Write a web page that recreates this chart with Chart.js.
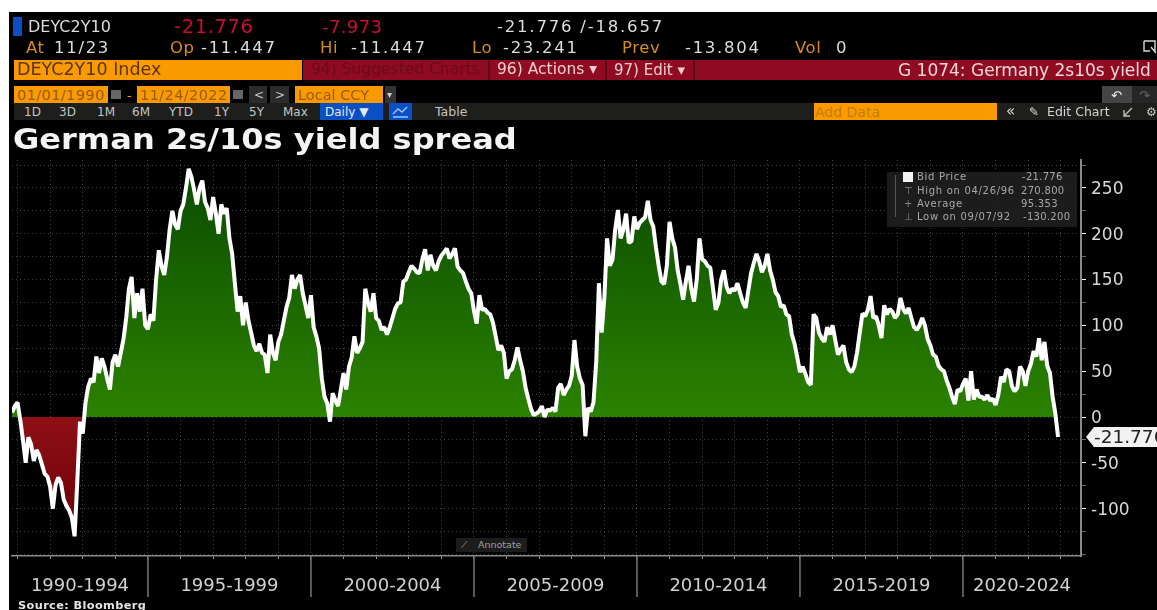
<!DOCTYPE html>
<html>
<head>
<meta charset="utf-8">
<title>German 2s/10s yield spread</title>
<script src="https://cdn.jsdelivr.net/npm/chart.js@4"></script>
<style>
  html, body { margin: 0; padding: 0; background: #fff; overflow: hidden; width: 1157px; height: 610px; }
  #terminal { position: absolute; left: 9px; top: 12px; width: 1148px; height: 598px; background: #000; }
  canvas { position: absolute; left: 0; top: 0; }
  .box { position: absolute; }
  .txt { position: absolute; white-space: pre; font-family: "DejaVu Sans", sans-serif; transform: translateY(-50%); line-height: 1; }
  svg { position: absolute; }
</style>
</head>
<body>
<div id="terminal"></div>
<canvas id="spread" width="1157" height="610"></canvas>
<div id="overlay"></div>
<script>
// Monthly samples of the 10y minus 2y Bund spread, in basis points
const firstYear = 1990.833;
const spreadValues = [
  5, 12, 16, -3, -25, -50, -22, -30, -48, -36, -42, -52, -62, -65, -76, -100, -74, -66, -72, -90,
  -97, -102, -110, -130.2, -70, -5, -18, 15, 33, 42, 38, 66, 48, 64, 55, 42, 30, 60, 68, 55,
  70, 85, 108, 140, 153, 108, 135, 115, 140, 100, 96, 112, 105, 150, 182, 165, 155, 175, 205, 225,
  210, 205, 225, 232, 250, 270.8, 262, 248, 232, 250, 258, 235, 228, 215, 240, 222, 200, 232, 222, 228,
  195, 178, 146, 115, 132, 100, 125, 105, 92, 78, 72, 80, 70, 68, 48, 90, 70, 62, 82, 90,
  105, 120, 130, 155, 140, 150, 155, 135, 122, 108, 133, 98, 88, 75, 42, 22, 15, -5, 26, 18,
  12, 30, 48, 30, 55, 65, 88, 70, 75, 82, 140, 125, 115, 135, 108, 105, 95, 98, 90, 98,
  108, 118, 124, 125, 148, 150, 158, 165, 162, 158, 157, 172, 183, 160, 177, 165, 160, 170, 176, 180,
  184, 173, 178, 184, 164, 160, 157, 148, 140, 135, 116, 102, 133, 117, 118, 114, 112, 103, 88, 73,
  78, 70, 42, 50, 52, 62, 76, 62, 50, 32, 20, 9, 2, 4, 6, 12, 0, 8, 7, 10,
  6, 32, 36, 24, 30, 34, 45, 84, 55, 42, 35, -21, 10, 6, 16, 60, 146, 92, 130, 195,
  165, 172, 205, 226, 195, 205, 222, 190, 192, 219, 205, 212, 215, 218, 236, 215, 208, 185, 165, 148,
  145, 165, 213, 195, 185, 160, 145, 128, 148, 165, 140, 126, 150, 195, 172, 170, 165, 163, 140, 117,
  125, 150, 160, 142, 135, 140, 138, 146, 135, 125, 119, 138, 157, 168, 178, 170, 158, 165, 178, 160,
  150, 136, 132, 120, 122, 112, 110, 90, 80, 65, 49, 55, 47, 38, 35, 112, 108, 92, 86, 82,
  98, 90, 100, 84, 68, 74, 78, 60, 52, 49, 55, 70, 92, 113, 110, 117, 132, 108, 110, 100,
  86, 122, 112, 118, 115, 108, 112, 130, 118, 113, 119, 108, 98, 95, 100, 108, 100, 85, 78, 68,
  66, 56, 52, 50, 40, 32, 22, 14, 30, 28, 36, 42, 18, 50, 19, 30, 22, 22, 19, 24,
  18, 20, 13, 24, 44, 38, 52, 50, 34, 28, 32, 55, 50, 34, 50, 58, 72, 66, 86, 62,
  82, 56, 48, 22, 4, -21.776
];
const periodLabels = ['1990-1994', '1995-1999', '2000-2004', '2005-2009', '2010-2014', '2015-2019', '2020-2024'];
const periodBreaks = [1995, 2000, 2005, 2010, 2015, 2020];
const yearTicks = [1991, 1992, 1993, 1994, 1995, 1996, 1997, 1998, 1999, 2000, 2001, 2002, 2003, 2004, 2005, 2006,
  2007, 2008, 2009, 2010, 2011, 2012, 2013, 2014, 2015, 2016, 2017, 2018, 2019, 2020, 2021, 2022, 2023];
const spreadTicks = [-150, -125, -100, -75, -50, -25, 0, 25, 50, 75, 100, 125, 150, 175, 200, 225, 250, 275];
const spreadLabels = [-100, -50, 0, 50, 100, 150, 200, 250];
const lastValue = -21.776;

const xMin = 1990.83, xMax = 2023.62, yMin = -151.7, yMax = 280.5;

const edges = [xMin, ...periodBreaks, xMax];
const periodCenters = periodLabels.map((_, i) => (edges[i] + edges[i + 1]) / 2);
const points = spreadValues.map((v, i) => ({ x: firstYear + i / 12, y: v }));

const canvas = document.getElementById('spread');
const g = canvas.getContext('2d');
const aboveFill = g.createLinearGradient(0, 165, 0, 417);
aboveFill.addColorStop(0, '#0a4a00');
aboveFill.addColorStop(1, '#2b8200');
const belowFill = g.createLinearGradient(0, 417, 0, 535);
belowFill.addColorStop(0, '#8f0f16');
belowFill.addColorStop(1, '#6a0006');

// Period separators below the axis and the flag holding the latest value
const axisExtras = {
  id: 'axisExtras',
  afterDraw(chart) {
    const { ctx, scales } = chart;
    ctx.save();
    ctx.strokeStyle = '#777';
    ctx.lineWidth = 1.5;
    periodBreaks.forEach(b => {
      const px = scales.x.getPixelForValue(b);
      ctx.beginPath();
      ctx.moveTo(px, scales.x.top);
      ctx.lineTo(px, scales.x.top + 41);
      ctx.stroke();
    });
    const py = scales.y.getPixelForValue(lastValue);
    const left = scales.y.left + 5;
    ctx.fillStyle = '#f2f2f2';
    ctx.beginPath();
    ctx.moveTo(left, py);
    ctx.lineTo(left + 8, py - 10);
    ctx.lineTo(1157, py - 10);
    ctx.lineTo(1157, py + 10);
    ctx.lineTo(left + 8, py + 10);
    ctx.closePath();
    ctx.fill();
    ctx.fillStyle = '#222';
    ctx.font = '18.5px "DejaVu Sans"';
    ctx.textBaseline = 'middle';
    ctx.textAlign = 'left';
    ctx.fillText(lastValue.toFixed(3), left + 8, py + 1);
    ctx.restore();
  }
};

new Chart(canvas, {
  type: 'line',
  data: {
    datasets: [{
      label: 'Bid Price',
      data: points,
      borderColor: '#ffffff',
      borderWidth: 4,
      pointRadius: 0,
      tension: 0,
      borderJoinStyle: 'bevel',
      fill: { target: { value: 0 }, above: aboveFill, below: belowFill }
    }]
  },
  options: {
    responsive: false,
    animation: false,
    layout: { padding: { left: 12, top: 160, right: 0, bottom: 0 } },
    plugins: { legend: { display: false }, title: { display: false }, tooltip: { enabled: false } },
    scales: {
      x: {
        type: 'linear',
        min: xMin,
        max: xMax,
        afterFit: s => { s.height = 54; },
        afterBuildTicks: s => { s.ticks = [...yearTicks, ...periodCenters].map(value => ({ value })); },
        border: { color: '#8a8a8a', width: 1.5, dash: [1, 3] },
        grid: {
          color: c => yearTicks.includes(c.tick.value) ? 'rgba(170,170,170,0.38)' : 'rgba(0,0,0,0)',
          tickColor: c => yearTicks.includes(c.tick.value) ? '#999' : 'rgba(0,0,0,0)',
          tickLength: 3
        },
        ticks: {
          autoSkip: false,
          maxRotation: 0,
          padding: 17,
          color: '#d0d0d0',
          font: { family: '"DejaVu Sans"', size: 18 },
          callback: v => {
            const i = periodCenters.indexOf(v);
            return i >= 0 ? periodLabels[i] : '';
          }
        }
      },
      y: {
        position: 'right',
        min: yMin,
        max: yMax,
        afterFit: s => { s.width = 76; },
        afterBuildTicks: s => { s.ticks = spreadTicks.map(value => ({ value })); },
        border: { color: '#8a8a8a', width: 2, dash: [1, 3] },
        grid: {
          color: 'rgba(170,170,170,0.38)',
          tickColor: c => spreadLabels.includes(c.tick.value) ? '#ffffff' : '#666',
          tickLength: 5
        },
        ticks: {
          autoSkip: false,
          padding: 5,
          labelOffset: 1.5,
          color: '#d8d8d8',
          font: { family: '"DejaVu Sans"', size: 17 },
          callback: v => spreadLabels.includes(v) ? String(v) : ''
        }
      }
    }
  },
  plugins: [axisExtras]
});

// Terminal chrome around the chart
const overlay = document.getElementById('overlay');
function box(x, y, w, h, color, extra) {
  const d = document.createElement('div');
  d.className = 'box';
  d.style.cssText = `left:${x}px;top:${y}px;width:${w}px;height:${h}px;background:${color};${extra || ''}`;
  overlay.appendChild(d);
  return d;
}
function txt(s, x, y, size, color, extra) {
  const d = document.createElement('div');
  d.className = 'txt';
  d.textContent = s;
  d.style.cssText = `left:${x}px;top:${y}px;font-size:${size}px;color:${color};${extra || ''}`;
  overlay.appendChild(d);
  return d;
}
function glyph(x, y, w, h, path, stroke) {
  const ns = 'http://www.w3.org/2000/svg';
  const s = document.createElementNS(ns, 'svg');
  s.setAttribute('width', w);
  s.setAttribute('height', h);
  s.style.left = x + 'px';
  s.style.top = y + 'px';
  const p = document.createElementNS(ns, 'path');
  p.setAttribute('d', path);
  p.setAttribute('fill', 'none');
  p.setAttribute('stroke', stroke);
  p.setAttribute('stroke-width', '1.4');
  s.appendChild(p);
  overlay.appendChild(s);
}
const WHITE = '#dcdcdc', AMBER = '#d98a1c', RED = '#c8102e', ORANGE = '#f99b00', CRIMSON = '#8e0b22', DIM = '#9a5a08';

box(13, 17, 9, 19, '#0a50c4');
txt('DEYC2Y10', 28, 27, 16, WHITE);
txt('-21.776', 174, 27, 19.5, RED, 'letter-spacing:.6px');
txt('-7.973', 322, 27, 18, RED, 'letter-spacing:.4px');
txt('-21.776 /-18.657', 497, 27, 16.5, WHITE, 'letter-spacing:1.8px');

[['At', 26, AMBER], ['Op', 170, AMBER], ['Hi', 320, AMBER], ['Lo', 472, AMBER], ['Prev', 622, AMBER], ['Vol', 795, AMBER]]
  .forEach(([s, x, c]) => txt(s, x, 48, 16.5, c, 'letter-spacing:.6px'));
[['11/23', 54], ['-11.447', 201], ['-11.447', 351], ['-23.241', 503], ['-13.804', 685], ['0', 836]]
  .forEach(([s, x]) => txt(s, x, 48, 16.5, WHITE, 'letter-spacing:1.7px'));

glyph(1142, 38, 15, 18, 'M2 3H13V13M2 3V13H8M9 9L14 15', '#d8d8d8');

box(14, 60, 288, 20, ORANGE);
txt('DEYC2Y10 Index', 17, 70, 17.5, '#5a3300');
box(303, 60, 854, 20, CRIMSON);
box(488, 60, 2, 20, '#5c0714');
box(605, 60, 2, 20, '#5c0714');
box(693, 60, 2, 20, '#5c0714');
txt('94) Suggested Charts', 311, 70, 15.5, '#6c0a1c');
txt('96) Actions ▾', 497, 70, 15.5, '#ecd0d0');
txt('97) Edit ▾', 614, 70, 15, '#ecd0d0');
txt('G 1074: Germany 2s10s yield', 898, 70, 17, '#f0d8d8');

box(14, 86, 94, 17, ORANGE);
txt('01/01/1990', 17, 94.5, 14.5, DIM, 'letter-spacing:.4px');
box(111, 90, 10, 9, '#666');
txt('-', 127, 94.5, 13, ORANGE);
box(137, 86, 93, 17, ORANGE);
txt('11/24/2022', 140, 94.5, 14.5, DIM, 'letter-spacing:.4px');
box(233, 90, 10, 9, '#666');
box(249, 86, 18, 17, '#2c2c2c');
txt('<', 254, 94.5, 12, '#ccc');
box(270, 86, 19, 17, '#2c2c2c');
txt('>', 275, 94.5, 12, '#ccc');
box(295, 86, 88, 17, ORANGE);
txt('Local CCY', 298, 94.5, 14.5, DIM);
box(385, 86, 11, 17, '#333');
txt('▾', 387, 94.5, 10, '#ccc');

box(14, 103, 1143, 17, '#1e1e1c');
[['1D', 24], ['3D', 59], ['1M', 97], ['6M', 132], ['YTD', 169], ['1Y', 214], ['5Y', 249], ['Max', 283]]
  .forEach(([s, x]) => txt(s, x, 111.5, 12, '#c4c4c4'));
box(320, 103, 63, 17, '#0a50c4');
txt('Daily ▼', 325, 111.5, 12, '#e8e8e8');
box(389, 103, 23, 17, '#0a50c4');
glyph(391, 104, 19, 15, 'M2 10L7 5L11 8L16 3M2 13H17', '#9cc4ff');
txt('Table', 435, 111.5, 12.5, '#c4c4c4');
box(814, 103, 183, 17, ORANGE);
txt('Add Data', 815, 111.5, 14, '#c47c06');
txt('«', 1006, 111, 15, '#ddd');
txt('✎', 1029, 111.5, 12, '#ddd');
txt('Edit Chart', 1047, 111.5, 12.5, '#d4d4d4');
glyph(1122, 105, 12, 13, 'M2 11L10 3M2 5V11H8', '#bbb');
txt('⚙', 1146, 111.5, 12, '#ccc');
box(1102, 86, 30, 17, '#444');
box(1132, 86, 25, 17, '#262626');
txt('↶', 1111, 94.5, 13, '#eee');
txt('↷', 1139, 94.5, 13, '#666');

txt('German 2s/10s yield spread', 13, 140, 28, '#f4f4f4',
  'font-weight:bold;transform-origin:left center;transform:translateY(-50%) scaleX(1.145)');

// Stats panel in the upper right of the plot
box(887, 172, 190, 55, 'rgba(30,30,30,0.92)');
box(895, 175, 1, 42, '#555');
box(903, 172, 10, 10, '#f4f4f4');
const panelRows = [['Bid Price', '-21.776', 177], ['High on 04/26/96', '270.800', 190.5], ['Average', '95.353', 203.5], ['Low on 09/07/92', '-130.200', 216.5]];
panelRows.forEach(([name, val, y]) => {
  txt(name, 917, y, 10, '#a8a8a8', 'letter-spacing:.7px');
  txt(val, val.startsWith('-1') ? 1023 : (val.startsWith('-') ? 1022 : 1021), y, 10, '#a8a8a8', 'letter-spacing:.3px');
});
txt('⊤', 904, 190.5, 10, '#888');
txt('+', 904, 203.5, 10, '#888');
txt('⊥', 904, 216.5, 10, '#888');

// Annotate button on the bottom edge of the plot
box(456, 538, 71, 14, '#1c1c1c');
txt('⟋', 461, 545, 9, '#aaa');
txt('Annotate', 478, 545, 9.5, '#a0a0a0');

txt('Source: Bloomberg', 18, 606, 11.3, '#e4e4e4', 'font-weight:bold;letter-spacing:.4px');
</script>
</body>
</html>
